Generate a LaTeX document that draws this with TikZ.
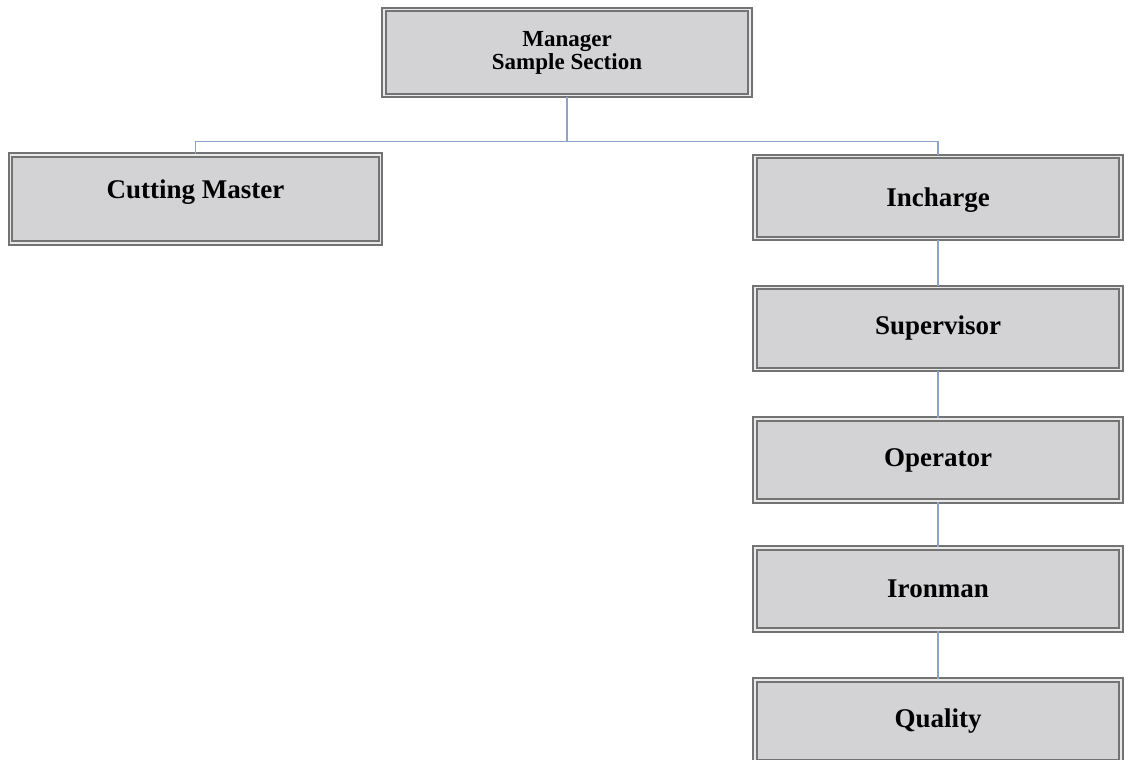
\documentclass[tikz,border=0pt]{standalone}
\usepackage{fontspec}
\setmainfont{Liberation Serif}
\usepackage{xcolor}
\usepackage{tikz}
\definecolor{boxgray}{RGB}{211,211,213}
\definecolor{edgegray}{RGB}{115,115,115}
\definecolor{linkblue}{RGB}{140,162,200}

\begin{document}
\begin{tikzpicture}[x=0.5pt,y=-0.5pt,
  orgbox/.style={draw=edgegray, double=boxgray!50!white, double distance=0.6pt, line width=1.1pt,
    fill=boxgray, minimum width=183pt, minimum height=41pt, inner sep=0pt,
    font=\fontsize{13.5}{16}\selectfont\bfseries},
  link/.style={draw=linkblue, line width=0.8pt}]
\useasboundingbox (0,0) rectangle (1125,760);

% Manager
\node[orgbox, minimum height=43pt, align=center,
  font=\fontsize{11.5}{10}\selectfont\bfseries] (mgr) at (567,52.5) {Manager\\ Sample Section};

% First level
\node[orgbox, minimum width=185pt, minimum height=44pt, text depth=10pt] (cut) at (195.5,199) {Cutting Master};
\node[orgbox, text height=12pt] (inc) at (938,197.5) {Incharge};

% Chain below Incharge
\node[orgbox] (sup) at (938,328.5) {Supervisor};
\node[orgbox] (op) at (938,460) {Operator};
\node[orgbox] (iron) at (938,589) {Ironman};
\node[orgbox] (qual) at (938,721) {Quality};

% Connectors
\draw[link] (mgr.south) -- ++(0,45) -| (cut.north);
\draw[link] (mgr.south) -- ++(0,45) -| (inc.north);
\draw[link] (inc) -- (sup);
\draw[link] (sup) -- (op);
\draw[link] (op) -- (iron);
\draw[link] (iron) -- (qual);
\end{tikzpicture}
\end{document}
